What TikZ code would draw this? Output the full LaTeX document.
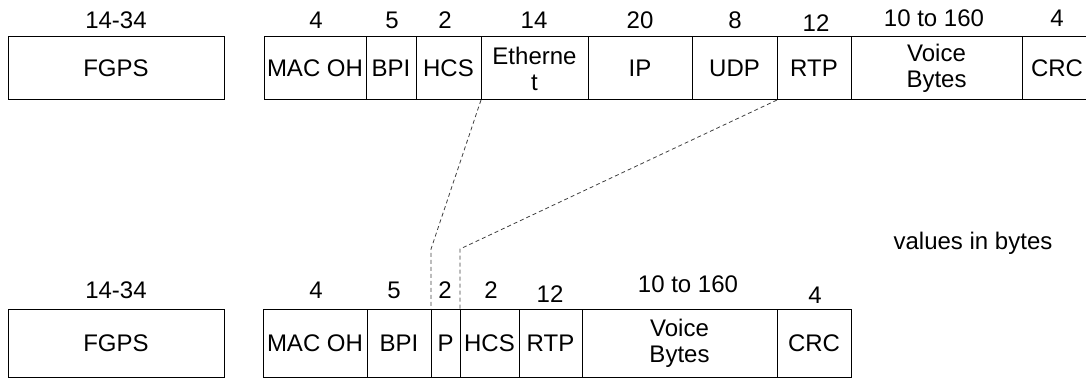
\documentclass[tikz,border=0pt]{standalone}
\usepackage{fontspec}
\setmainfont{Liberation Sans}
\usetikzlibrary{positioning}
\tikzset{
  field/.style={draw,line width=1pt,inner sep=0pt,outer sep=0pt,align=center,
    font=\fontsize{24}{26}\selectfont},
  toprow/.style={field,minimum height=63},
  botrow/.style={field,minimum height=68},
  bytes/.style={anchor=base,inner sep=0pt,font=\fontsize{24}{26}\selectfont},
  link/.style={line width=0.8pt,dash pattern=on 4pt off 3pt,black!75},
}
\begin{document}
\begin{tikzpicture}[x=1pt,y=-1pt]
  \clip (0,0) rectangle (1086,379);
  % upper frame
  \node[toprow,minimum width=216,anchor=north west] (tfgps) at (8,37) {FGPS};
  \node[toprow,minimum width=102,anchor=north west] (tmac) at (264,37) {MAC OH};
  \node[toprow,minimum width=50,right=0pt of tmac] (tbpi) {BPI};
  \node[toprow,minimum width=65,right=0pt of tbpi] (thcs) {HCS};
  \node[toprow,minimum width=107,right=0pt of thcs] (teth) {Etherne\\t};
  \node[toprow,minimum width=104,right=0pt of teth] (tip) {IP};
  \node[toprow,minimum width=85,right=0pt of tip] (tudp) {UDP};
  \node[toprow,minimum width=74,right=0pt of tudp] (trtp) {RTP};
  \node[toprow,minimum width=171,right=0pt of trtp] (tvoice) {Voice\\Bytes};
  \node[toprow,minimum width=70,right=0pt of tvoice] (tcrc) {CRC};
  \node[bytes] (ntfgps) at (116,29) {14-34};
  \node[bytes] (ntmac) at (316,29) {4};
  \node[bytes] (ntbpi) at (392,29) {5};
  \node[bytes] (nthcs) at (445,29) {2};
  \node[bytes] (nteth) at (534,29) {14};
  \node[bytes] (ntip) at (640,29) {20};
  \node[bytes] (ntudp) at (735,29) {8};
  \node[bytes] (ntrtp) at (816,32) {12};
  \node[bytes] (ntvoice) at (934,27) {10 to 160};
  \node[bytes] (ntcrc) at (1057,27) {4};
  % lower frame
  \node[botrow,minimum width=216,anchor=north west] (bfgps) at (8,309) {FGPS};
  \node[botrow,minimum width=104,anchor=north west] (bmac) at (263,309) {MAC OH};
  \node[botrow,minimum width=64,right=0pt of bmac] (bbpi) {BPI};
  \node[botrow,minimum width=29,right=0pt of bbpi] (bp) {P};
  \node[botrow,minimum width=59,right=0pt of bp] (bhcs) {HCS};
  \node[botrow,minimum width=63,right=0pt of bhcs] (brtp) {RTP};
  \node[botrow,minimum width=195,right=0pt of brtp] (bvoice) {Voice\\Bytes};
  \node[botrow,minimum width=74,right=0pt of bvoice] (bcrc) {CRC};
  \node[bytes] (nbfgps) at (116,298) {14-34};
  \node[bytes] (nbmac) at (316,298) {4};
  \node[bytes] (nbbpi) at (394,298) {5};
  \node[bytes] (nbp) at (445,298) {2};
  \node[bytes] (nbhcs) at (491,298) {2};
  \node[bytes] (nbrtp) at (550,302) {12};
  \node[bytes] (nbvoice) at (688,292) {10 to 160};
  \node[bytes] (nbcrc) at (815,303) {4};
  \node[bytes] (unit) at (973,250) {values in bytes};
  % mapping of the compressed header
  \coordinate (kinka) at (431,249);
  \coordinate (kinkb) at (460,249);
  \draw[link] (thcs.south east) -- (kinka) -- (bbpi.north east);
  \draw[link] (tudp.south east) -- (kinkb) -- (bp.north east);
\end{tikzpicture}
\end{document}
